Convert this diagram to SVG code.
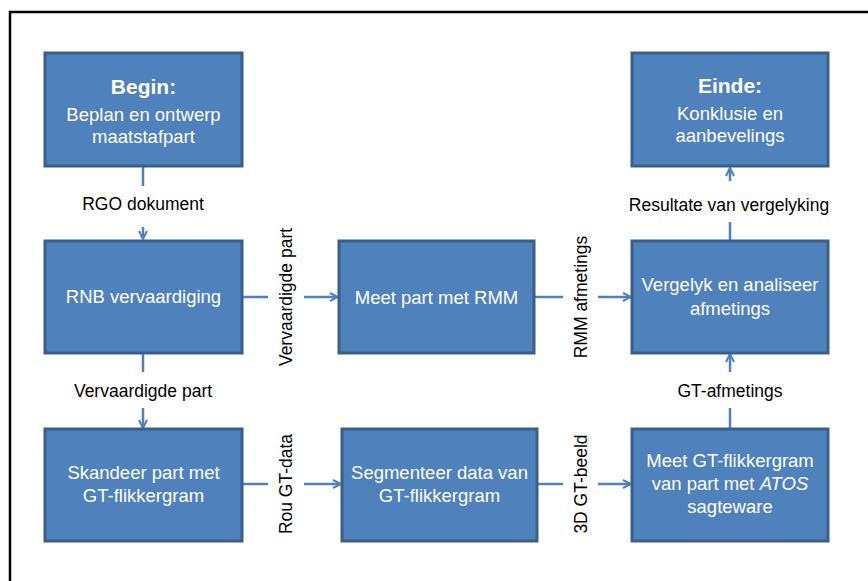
<svg xmlns="http://www.w3.org/2000/svg" width="868" height="581" viewBox="0 0 868 581">
<defs>
<style>
.box{fill:#4F81BD;stroke:#3A5F8B;stroke-width:3}
.bt{font-family:"Liberation Sans",Arial,sans-serif;font-size:18.5px;fill:#FFFFFF;text-anchor:middle}
.hd{font-family:"Liberation Sans",Arial,sans-serif;font-size:21px;font-weight:bold;fill:#FFFFFF;text-anchor:middle}
.lb{font-family:"Liberation Sans",Arial,sans-serif;font-size:17.5px;fill:#000000;text-anchor:middle}
.cn{fill:none;stroke:#4F81BD;stroke-width:2.5}
</style>
<marker id="ar" viewBox="0 0 10 10" refX="9" refY="5" markerWidth="10" markerHeight="10" markerUnits="userSpaceOnUse" orient="auto">
<path d="M1,1 L9,5 L1,9" fill="none" stroke="#4F81BD" stroke-width="2"/>
</marker>
</defs>
<rect x="0" y="0" width="868" height="581" fill="#FFFFFF"/>
<rect x="10" y="12" width="880" height="600" fill="none" stroke="#000000" stroke-width="2.5"/>

<g id="connectors">
<line class="cn" x1="143" y1="167" x2="143" y2="186"/>
<line class="cn" x1="143" y1="227" x2="143" y2="239" marker-end="url(#ar)"/>
<line class="cn" x1="143" y1="353" x2="143" y2="372"/>
<line class="cn" x1="143" y1="408" x2="143" y2="428" marker-end="url(#ar)"/>
<line class="cn" x1="242" y1="297" x2="268" y2="297"/>
<line class="cn" x1="304" y1="297" x2="338" y2="297" marker-end="url(#ar)"/>
<line class="cn" x1="534" y1="297" x2="563" y2="297"/>
<line class="cn" x1="598" y1="297" x2="631" y2="297" marker-end="url(#ar)"/>
<line class="cn" x1="242" y1="484" x2="268" y2="484"/>
<line class="cn" x1="304" y1="484" x2="341" y2="484" marker-end="url(#ar)"/>
<line class="cn" x1="537" y1="484" x2="563" y2="484"/>
<line class="cn" x1="598" y1="484" x2="631" y2="484" marker-end="url(#ar)"/>
<line class="cn" x1="730" y1="429" x2="730" y2="408"/>
<line class="cn" x1="730" y1="372" x2="730" y2="354" marker-end="url(#ar)"/>
<line class="cn" x1="730" y1="240" x2="730" y2="222"/>
<line class="cn" x1="730" y1="181" x2="730" y2="168" marker-end="url(#ar)"/>
<text class="lb" x="143" y="210">RGO dokument</text>
<text class="lb" x="143" y="397">Vervaardigde part</text>
<text class="lb" x="730" y="397">GT-afmetings</text>
<text class="lb" x="729" y="211">Resultate van vergelyking</text>
<text class="lb" transform="translate(292,297) rotate(-90)">Vervaardigde part</text>
<text class="lb" transform="translate(587,297) rotate(-90)">RMM afmetings</text>
<text class="lb" transform="translate(292,484) rotate(-90)">Rou GT-data</text>
<text class="lb" transform="translate(587,484) rotate(-90)">3D GT-beeld</text>
</g>

<g id="begin">
<rect class="box" x="45" y="53" width="197" height="113"/>
<text class="hd" x="143.5" y="94">Begin:</text>
<text class="bt" x="143.5" y="121">Beplan en ontwerp</text>
<text class="bt" x="143.5" y="143">maatstafpart</text>
</g>
<g id="einde">
<rect class="box" x="632" y="53" width="196" height="113"/>
<text class="hd" x="730" y="93">Einde:</text>
<text class="bt" x="730" y="120">Konklusie en</text>
<text class="bt" x="730" y="142">aanbevelings</text>
</g>
<g id="rnb">
<rect class="box" x="45" y="241" width="197" height="112"/>
<text class="bt" x="143.5" y="303">RNB vervaardiging</text>
</g>
<g id="meet-rmm">
<rect class="box" x="339" y="241" width="195" height="112"/>
<text class="bt" x="436.5" y="304">Meet part met RMM</text>
</g>
<g id="vergelyk">
<rect class="box" x="632" y="241" width="196" height="112"/>
<text class="bt" x="730" y="291">Vergelyk en analiseer</text>
<text class="bt" x="730" y="315">afmetings</text>
</g>
<g id="skandeer">
<rect class="box" x="45" y="429" width="197" height="112"/>
<text class="bt" x="143.5" y="479">Skandeer part met</text>
<text class="bt" x="143.5" y="502">GT-flikkergram</text>
</g>
<g id="segmenteer">
<rect class="box" x="342" y="429" width="195" height="112"/>
<text class="bt" x="439.5" y="479">Segmenteer data van</text>
<text class="bt" x="439.5" y="502">GT-flikkergram</text>
</g>
<g id="meet-gt">
<rect class="box" x="632" y="429" width="196" height="112"/>
<text class="bt" x="730" y="467">Meet GT-flikkergram</text>
<text class="bt" x="730" y="490">van part met <tspan font-style="italic">ATOS</tspan></text>
<text class="bt" x="730" y="513">sagteware</text>
</g>
</svg>
